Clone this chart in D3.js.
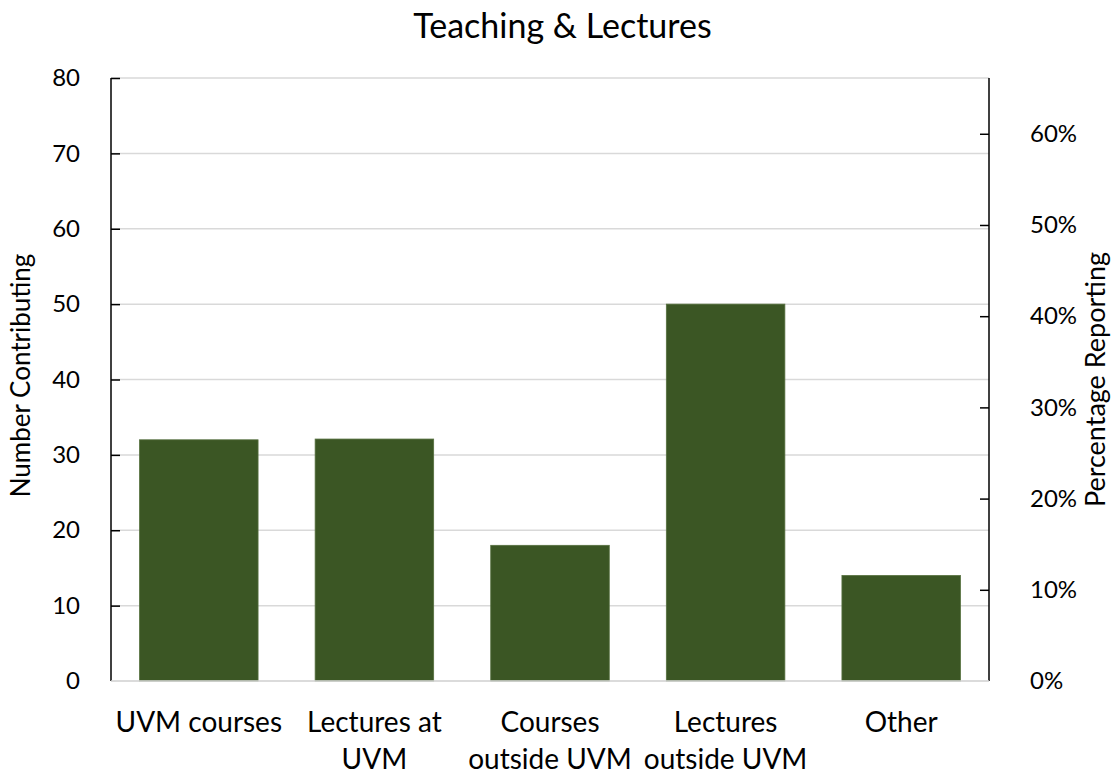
<!DOCTYPE html>
<html>
<head>
<meta charset="utf-8">
<script src="https://cdn.jsdelivr.net/npm/d3@7"></script>
<style>
  body { margin: 0; background: #fff; }
  svg text { font-family: Lato, "Noto Sans", sans-serif; fill: #000; }
  .grid line { stroke: #d9d9d9; stroke-width: 1.5; }
  .axis path, .axis line { stroke: #000; stroke-width: 1.5; }
</style>
</head>
<body>
<div id="chart"></div>
<script>
// categories & values
var categories = [["UVM courses"], ["Lectures at", "UVM"], ["Courses", "outside UVM"], ["Lectures", "outside UVM"], ["Other"]];
var counts = [32, 32.1, 18, 50, 14];
var countTicks = [0, 10, 20, 30, 40, 50, 60, 70, 80];
var pctTicks = [0, 0.1, 0.2, 0.3, 0.4, 0.5, 0.6];
var respondents = 121;   // right axis = count / respondents

var W = 1113, H = 778;
var m = {t: 78, r: 124, b: 97, l: 111};
var w = W - m.l - m.r, h = H - m.t - m.b;

var svg = d3.select('#chart').append('svg')
	.attr('width', W)
	.attr('height', H);

var g = svg.append('g').attr('transform', 'translate(' + m.l + ',' + m.t + ')');

var x = d3.scaleBand()
	.domain(d3.range(categories.length))
	.range([0, w])
	.paddingInner(0.325)
	.paddingOuter(0.1625);

var y = d3.scaleLinear().domain([0, 80]).range([h, 0]);
var yPct = d3.scaleLinear().domain([0, 80 / respondents]).range([h, 0]);

// gridlines
g.append('g').attr('class', 'grid')
	.selectAll('line').data(countTicks)
	.enter().append('line')
	.attr('x1', 0).attr('x2', w)
	.attr('y1', function(d) { return y(d); })
	.attr('y2', function(d) { return y(d); });

// bars
g.selectAll('.bar').data(counts)
	.enter().append('rect')
	.attr('class', 'bar')
	.attr('x', function(d, i) { return x(i); })
	.attr('width', x.bandwidth())
	.attr('y', function(d) { return y(d); })
	.attr('height', function(d) { return h - y(d); })
	.attr('fill', '#3b5624')
	.attr('stroke', '#56703f')
	.attr('stroke-width', 0.8);

// left axis
var left = g.append('g').attr('class', 'axis')
	.call(d3.axisLeft(y).tickValues(countTicks).tickSizeInner(-9).tickSizeOuter(0).tickPadding(31));
left.select('.domain').attr('d', 'M0,' + h + 'V0');
left.selectAll('.tick').filter(function(d) { return d === 0; }).select('line').remove();

// right axis
var right = g.append('g').attr('class', 'axis')
	.attr('transform', 'translate(' + w + ',0)')
	.call(d3.axisRight(yPct).tickValues(pctTicks).tickFormat(d3.format('.0%')).tickSizeInner(-9).tickSizeOuter(0).tickPadding(41));
right.select('.domain').attr('d', 'M0,' + h + 'V0');
right.selectAll('.tick').filter(function(d) { return d === 0; }).select('line').remove();

svg.selectAll('.axis text').style('font-size', '24px').style('font-family', 'Lato, "Noto Sans", sans-serif');

// bottom baseline
g.append('line')
	.attr('x1', 0).attr('x2', w)
	.attr('y1', h).attr('y2', h)
	.attr('stroke', '#d9d9d9').attr('stroke-width', 1.5);

// category labels
var cat = g.selectAll('.cat').data(categories)
	.enter().append('text')
	.attr('class', 'cat')
	.attr('text-anchor', 'middle')
	.style('font-size', '28px');
cat.selectAll('tspan').data(function(d, i) { return d.map(function(s) { return {s: s, i: i}; }); })
	.enter().append('tspan')
	.attr('x', function(d) { return x(d.i) + x.bandwidth() / 2; })
	.attr('y', function(d, j) { return h + 51 + j * 37; })
	.text(function(d) { return d.s; });

// titles
svg.append('text')
	.attr('x', W / 2 + 6).attr('y', 38)
	.attr('text-anchor', 'middle')
	.style('font-size', '34px')
	.text('Teaching & Lectures');

svg.append('text')
	.attr('transform', 'translate(30,' + (m.t + h / 2 - 4) + ') rotate(-90)')
	.attr('text-anchor', 'middle')
	.style('font-size', '26px')
	.text('Number Contributing');

svg.append('text')
	.attr('transform', 'translate(1105,' + (m.t + h / 2) + ') rotate(-90)')
	.attr('text-anchor', 'middle')
	.style('font-size', '27px')
	.text('Percentage Reporting');
</script>
</body>
</html>
